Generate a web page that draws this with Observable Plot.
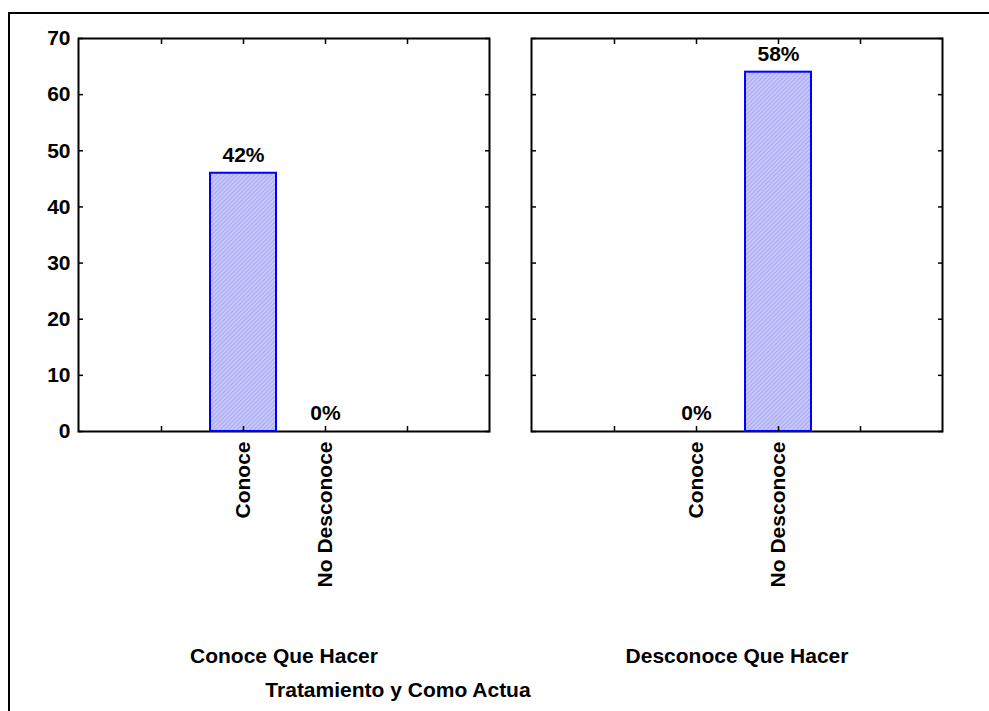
<!DOCTYPE html>
<html>
<head>
<meta charset="utf-8">
<script src="https://cdn.jsdelivr.net/npm/d3@7"></script>
<script src="https://cdn.jsdelivr.net/npm/@observablehq/plot@0.6"></script>
<style>
  html, body { margin: 0; padding: 0; background: #fff; }
  body { width: 989px; height: 711px; position: relative; overflow: hidden; font-family: "Liberation Sans", Arial, sans-serif; }
  #frame { position: absolute; left: 8px; top: 12px; width: 989px; height: 711px; border-left: 2px solid #000; border-top: 2px solid #000; }
  #chart { position: absolute; left: 0; top: 0; }
  #title { position: absolute; left: 198px; width: 400px; top: 678px; text-align: center; font-weight: bold; font-size: 21px; }
</style>
</head>
<body>
<div id="frame"></div>
<div id="chart"></div>
<div id="title">Tratamiento y Como Actua</div>
<script>
// Data
const groups = ["Conoce Que Hacer", "Desconoce Que Hacer"];
const categories = ["Conoce", "No Desconoce"];
const valuesConoceQueHacer = [46, 0];
const valuesDesconoceQueHacer = [0, 64];
const pctConoceQueHacer = ["42%", "0%"];
const pctDesconoceQueHacer = ["0%", "58%"];
const yTicks = [0, 10, 20, 30, 40, 50, 60, 70];
const blankSlots = ["_a", "_b"];

const rows = [];
categories.forEach((c, i) => rows.push({group: groups[0], cat: c, value: valuesConoceQueHacer[i], label: pctConoceQueHacer[i]}));
categories.forEach((c, i) => rows.push({group: groups[1], cat: c, value: valuesDesconoceQueHacer[i], label: pctDesconoceQueHacer[i]}));

const xDomain = [blankSlots[0], ...categories, blankSlots[1]];
const fmtX = d => blankSlots.includes(d) ? "" : d;
const font = "Liberation Sans, Arial, sans-serif";
const fs = 21;

const plot = Plot.plot({
  width: 989,
  height: 711,
  marginLeft: 78,
  marginRight: 46,
  marginTop: 38,
  marginBottom: 280,
  style: {fontFamily: font, fontWeight: "bold", fontSize: fs + "px", background: "transparent", color: "#000"},
  fx: {domain: groups, paddingInner: 0.0926, paddingOuter: 0, label: null},
  x: {domain: xDomain, paddingInner: 0.2, paddingOuter: 0.6, align: 0.5, label: null},
  y: {domain: [0, 70], ticks: yTicks, label: null},
  marks: [
    Plot.frame({stroke: "#000", strokeWidth: 2}),
    Plot.barY(rows, {fx: "group", x: "cat", y: "value", fill: "url(#hatch)", stroke: "#0000ff", strokeWidth: 2}),
    Plot.text(rows, {fx: "group", x: "cat", y: "value", text: "label", dy: -18, fontSize: fs, fontWeight: "bold", fill: "#000"}),
    // y labels (left panel only)
    Plot.axisY(yTicks, {anchor: "left", tickSize: 0, tickPadding: 8, fontSize: fs, fontWeight: "bold", label: null}),
    // inward y ticks on both sides of every panel
    Plot.axisY(yTicks, {anchor: "left", tickSize: 5, dx: 5, tickFormat: () => "", facetAnchor: null, label: null, strokeWidth: 1.5}),
    Plot.axisY(yTicks, {anchor: "right", tickSize: 5, dx: -5, tickFormat: () => "", facetAnchor: null, label: null, strokeWidth: 1.5}),
    // x labels rotated
    Plot.axisX({anchor: "bottom", tickSize: 0, tickPadding: 10, tickRotate: -90, tickFormat: fmtX, fontSize: fs, fontWeight: "bold", label: null}),
    // inward x ticks top and bottom
    Plot.axisX({anchor: "bottom", tickSize: 5, dy: -5, tickFormat: () => "", facetAnchor: null, label: null, strokeWidth: 1.5}),
    Plot.axisX({anchor: "top", tickSize: 5, dy: 5, tickFormat: () => "", facetAnchor: null, label: null, strokeWidth: 1.5}),
    // facet labels
    Plot.axisFx({anchor: "bottom", tickSize: 0, tickPadding: 217, fontSize: fs, fontWeight: "bold", label: null})
  ]
});

// hatch pattern
const ns = "http://www.w3.org/2000/svg";
const defs = document.createElementNS(ns, "defs");
defs.innerHTML = `<pattern id="hatch" patternUnits="userSpaceOnUse" width="3" height="3" patternTransform="rotate(45)">
  <rect width="3" height="3" fill="#c6c6fb"></rect>
  <rect width="1" height="3" fill="#a9a9f2"></rect>
</pattern>`;
plot.insertBefore(defs, plot.firstChild);
document.getElementById("chart").appendChild(plot);
</script>
</body>
</html>
